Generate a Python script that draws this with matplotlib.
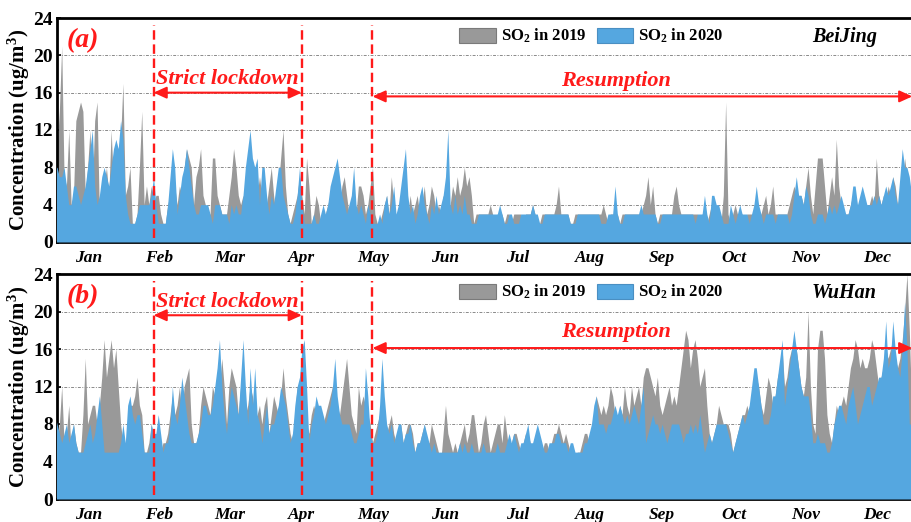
import matplotlib
matplotlib.use("Agg")
import matplotlib.pyplot as plt
from matplotlib.patches import Patch
import numpy as np

plt.rcParams['font.family'] = ['Liberation Serif', 'DejaVu Serif']
plt.rcParams['font.weight'] = 'bold'
plt.rcParams['mathtext.fontset'] = 'custom'
plt.rcParams['mathtext.rm'] = 'Liberation Serif:bold'
plt.rcParams['mathtext.it'] = 'Liberation Serif:italic:bold'
plt.rcParams['mathtext.bf'] = 'Liberation Serif:bold'

# daily SO2 (ug/m3), index 0 = 1 Jan
beijing_2019 = [
    8, 10, 14, 21, 7, 6, 12, 4, 5, 13,
    14, 15, 14, 5, 8, 12, 5, 13, 15, 3,
    2, 6, 8, 5, 12, 6, 7, 10, 11, 17,
    5, 6, 8, 2, 2, 3, 8, 14, 4, 6,
    4, 6, 4, 5, 5, 3, 2, 2, 4, 5,
    9, 6, 4, 6, 5, 8, 10, 9, 8, 4,
    7, 8, 10, 5, 4, 3, 3, 9, 9, 5,
    4, 3, 3, 3, 5, 7, 10, 8, 5, 4,
    5, 4, 6, 3, 4, 3, 5, 7, 5, 3,
    4, 6, 8, 5, 3, 6, 9, 12, 6, 3,
    2, 3, 4, 5, 7, 5, 3, 9, 6, 2,
    3, 5, 4, 2, 2, 3, 4, 5, 6, 5,
    7, 4, 6, 7, 5, 3, 4, 5, 3, 6,
    6, 5, 3, 4, 6, 8, 3, 2, 2, 3,
    4, 5, 3, 7, 4, 2, 3, 4, 3, 4,
    3, 5, 3, 4, 5, 3, 4, 6, 3, 4,
    6, 5, 3, 4, 3, 5, 4, 3, 4, 6,
    5, 7, 5, 6, 8, 6, 7, 5, 2, 3,
    3, 3, 3, 3, 3, 4, 3, 2, 3, 3,
    3, 2, 3, 3, 2, 3, 3, 3, 3, 2,
    3, 3, 3, 4, 3, 2, 2, 3, 3, 3,
    3, 3, 3, 4, 6, 3, 3, 3, 3, 2,
    2, 3, 3, 3, 3, 3, 3, 3, 3, 3,
    3, 3, 3, 4, 3, 2, 3, 3, 3, 3,
    2, 3, 3, 3, 3, 3, 3, 3, 3, 3,
    4, 5, 7, 4, 6, 3, 2, 3, 3, 3,
    3, 3, 3, 5, 6, 4, 3, 3, 3, 3,
    3, 3, 3, 3, 2, 3, 3, 2, 3, 4,
    3, 3, 3, 2, 5, 15, 3, 2, 3, 4,
    3, 3, 3, 2, 3, 3, 3, 3, 4, 3,
    3, 4, 5, 3, 4, 6, 3, 3, 3, 3,
    3, 3, 4, 5, 6, 5, 5, 5, 4, 6,
    8, 5, 3, 6, 9, 9, 9, 6, 3, 5,
    7, 5, 11, 6, 4, 3, 3, 3, 4, 5,
    4, 3, 4, 5, 4, 3, 4, 5, 4, 9,
    5, 4, 5, 4, 6, 5, 7, 6, 4, 5,
    6, 9, 7, 5, 6, 5,
]
beijing_2020 = [
    8, 8, 7, 7, 8, 6, 4, 4, 6, 6,
    5, 4, 5, 6, 8, 10, 12, 6, 4, 5,
    7, 8, 7, 6, 8, 10, 11, 10, 13, 11,
    5, 3, 2, 2, 2, 3, 4, 4, 4, 4,
    4, 5, 7, 4, 2, 2, 2, 2, 4, 7,
    10, 8, 3, 5, 7, 8, 10, 8, 6, 4,
    3, 3, 4, 4, 4, 4, 3, 2, 4, 4,
    4, 3, 3, 3, 2, 4, 3, 4, 3, 3,
    5, 8, 10, 12, 9, 8, 9, 4, 8, 8,
    5, 3, 5, 4, 6, 8, 8, 5, 4, 3,
    2, 2, 3, 5, 8, 4, 2, 2, 2, 2,
    3, 2, 2, 3, 4, 3, 4, 6, 7, 8,
    9, 7, 5, 4, 3, 4, 5, 8, 4, 3,
    4, 3, 2, 4, 3, 2, 2, 2, 3, 2,
    4, 5, 3, 4, 6, 3, 4, 6, 8, 10,
    5, 3, 4, 2, 3, 5, 6, 4, 3, 2,
    4, 3, 5, 3, 4, 5, 7, 12, 4, 3,
    5, 3, 4, 3, 5, 3, 3, 2, 2, 2,
    3, 3, 3, 3, 3, 3, 3, 3, 3, 4,
    3, 2, 2, 3, 3, 2, 2, 2, 3, 3,
    3, 3, 3, 4, 3, 3, 2, 2, 3, 3,
    3, 3, 3, 3, 3, 3, 3, 3, 3, 2,
    2, 2, 3, 3, 3, 3, 3, 3, 3, 3,
    3, 3, 2, 2, 2, 3, 3, 3, 6, 3,
    2, 2, 3, 3, 3, 3, 3, 3, 3, 4,
    3, 3, 3, 3, 3, 3, 2, 2, 3, 3,
    3, 3, 3, 3, 3, 3, 3, 3, 3, 3,
    3, 3, 2, 3, 3, 3, 5, 3, 2, 5,
    5, 4, 4, 3, 2, 2, 2, 4, 3, 2,
    3, 4, 3, 3, 3, 2, 3, 4, 6, 4,
    3, 2, 3, 3, 3, 3, 2, 3, 3, 3,
    3, 3, 2, 3, 5, 7, 5, 5, 4, 6,
    5, 3, 2, 2, 3, 3, 3, 2, 3, 4,
    3, 4, 3, 4, 5, 4, 3, 3, 4, 6,
    6, 4, 5, 6, 5, 4, 4, 4, 5, 4,
    5, 4, 5, 6, 5, 6, 7, 5, 4, 7,
    10, 8, 8, 7, 5, 6,
]
wuhan_2019 = [
    9, 6, 8, 12, 6, 7, 10, 5, 8, 6,
    5, 5, 9, 15, 8, 9, 10, 10, 8, 10,
    13, 17, 13, 15, 17, 14, 16, 12, 8, 6,
    5, 8, 10, 10, 11, 13, 10, 9, 5, 5,
    6, 8, 6, 7, 6, 5, 6, 6, 7, 9,
    11, 9, 10, 12, 9, 12, 13, 14, 8, 6,
    6, 7, 10, 12, 11, 10, 9, 12, 11, 10,
    12, 15, 12, 8, 12, 14, 13, 12, 9, 12,
    11, 9, 10, 12, 11, 8, 9, 10, 8, 10,
    11, 7, 9, 11, 10, 9, 11, 14, 11, 9,
    7, 6, 9, 12, 11, 13, 10, 8, 7, 9,
    10, 9, 10, 9, 8, 9, 10, 11, 12, 12,
    10, 9, 11, 13, 15, 12, 9, 8, 7, 12,
    10, 11, 10, 9, 8, 6, 7, 8, 9, 10,
    8, 7, 8, 9, 7, 6, 7, 8, 6, 7,
    8, 8, 7, 5, 6, 6, 7, 8, 6, 6,
    8, 7, 6, 5, 4, 7, 10, 7, 6, 5,
    6, 5, 6, 7, 8, 6, 7, 9, 9, 7,
    5, 6, 8, 9, 7, 5, 6, 7, 8, 8,
    6, 9, 7, 5, 6, 7, 7, 6, 5, 6,
    7, 7, 6, 5, 6, 7, 6, 5, 6, 6,
    5, 6, 7, 7, 8, 7, 6, 7, 6, 5,
    5, 4, 5, 5, 6, 7, 7, 6, 7, 9,
    11, 10, 9, 10, 9, 10, 12, 11, 9, 8,
    10, 9, 12, 10, 9, 12, 10, 11, 12, 10,
    13, 14, 14, 13, 12, 11, 13, 10, 9, 10,
    11, 12, 10, 11, 10, 12, 14, 16, 18, 17,
    14, 16, 17, 15, 12, 13, 14, 10, 7, 6,
    7, 8, 10, 9, 8, 8, 8, 7, 5, 6,
    7, 8, 9, 9, 10, 9, 10, 11, 13, 12,
    10, 9, 11, 13, 12, 10, 11, 13, 14, 16,
    12, 13, 15, 16, 17, 16, 14, 12, 11, 13,
    20, 12, 8, 7, 16, 18, 18, 15, 9, 7,
    6, 8, 10, 9, 10, 11, 10, 12, 14, 15,
    17, 16, 14, 15, 14, 14, 15, 17, 16, 14,
    12, 13, 14, 16, 15, 16, 17, 15, 14, 15,
    17, 20, 24, 18, 10, 8,
]
wuhan_2020 = [
    9, 8, 7, 6, 7, 8, 6, 7, 8, 6,
    5, 5, 5, 6, 7, 8, 6, 7, 9, 11,
    8, 5, 5, 5, 5, 5, 5, 5, 6, 8,
    6, 10, 11, 9, 8, 9, 9, 7, 5, 5,
    5, 8, 7, 7, 9, 7, 5, 6, 6, 8,
    12, 9, 8, 10, 13, 11, 9, 7, 6, 6,
    6, 7, 8, 10, 10, 9, 9, 10, 12, 14,
    17, 12, 9, 7, 10, 12, 11, 10, 9, 13,
    17, 12, 8, 14, 10, 14, 9, 8, 6, 8,
    10, 7, 8, 8, 9, 10, 12, 11, 10, 8,
    6, 7, 10, 12, 13, 16, 17, 12, 6, 8,
    9, 11, 10, 10, 9, 8, 9, 10, 12, 15,
    11, 9, 8, 8, 8, 8, 7, 6, 6, 7,
    8, 8, 14, 11, 7, 6, 6, 7, 10, 15,
    11, 8, 7, 8, 6, 7, 8, 8, 6, 7,
    7, 8, 6, 5, 6, 6, 7, 8, 7, 6,
    5, 6, 5, 5, 5, 5, 5, 5, 5, 5,
    5, 5, 6, 5, 6, 5, 5, 6, 5, 5,
    5, 5, 6, 5, 5, 5, 5, 5, 6, 5,
    5, 5, 6, 7, 6, 7, 6, 5, 6, 6,
    7, 8, 6, 6, 7, 8, 7, 6, 5, 5,
    6, 6, 6, 7, 7, 6, 6, 6, 5, 6,
    6, 5, 5, 5, 5, 6, 6, 7, 8, 10,
    11, 8, 8, 8, 7, 8, 8, 9, 10, 9,
    10, 9, 8, 9, 8, 9, 10, 9, 8, 10,
    12, 6, 7, 8, 9, 8, 8, 7, 8, 7,
    6, 7, 8, 8, 8, 8, 7, 6, 7, 7,
    8, 7, 8, 7, 9, 7, 5, 6, 7, 6,
    7, 8, 8, 8, 8, 8, 7, 6, 5, 6,
    7, 8, 9, 8, 9, 10, 12, 14, 14, 12,
    10, 8, 8, 8, 9, 11, 11, 13, 15, 17,
    10, 12, 14, 16, 18, 16, 14, 12, 11, 11,
    11, 9, 6, 6, 7, 6, 6, 6, 5, 5,
    6, 8, 9, 10, 10, 9, 8, 10, 11, 12,
    10, 8, 9, 10, 11, 12, 12, 10, 11, 12,
    13, 13, 15, 19, 14, 15, 19, 16, 14, 13,
    16, 21, 16, 8, 8, 7,
]

month_labels = ['Jan', 'Feb', 'Mar', 'Apr', 'May', 'Jun',
                'Jul', 'Aug', 'Sep', 'Oct', 'Nov', 'Dec']
month_days = [31, 29, 31, 30, 31, 30, 31, 31, 30, 31, 30, 31]

# period markers (day of year)
lockdown_start = 42
lockdown_end = 105
resumption_start = 135

GRAY = '#999999'
BLUE = '#55A7E0'
RED = '#FF1A1A'

month_start = np.concatenate([[0], np.cumsum(month_days)[:-1]])
month_mid = month_start + np.array(month_days) / 2 - 1


def draw_panel(ax, s2019, s2020, city, tag, lock_y, res_y):
    x19 = np.arange(len(s2019))
    x20 = np.arange(len(s2020))
    ax.fill_between(x19, 0, s2019, color=GRAY, linewidth=0, zorder=2)
    ax.fill_between(x20, 0, s2020, color=BLUE, linewidth=0, zorder=3)

    ax.set_xlim(1, 365)
    ax.set_ylim(0, 24)
    ax.set_yticks(range(0, 25, 4))
    ax.set_xticks(month_mid)
    ax.set_xticklabels(month_labels, fontstyle='italic', fontweight='bold', fontsize=12.5)
    ax.tick_params(axis='x', length=0, pad=5.5)
    ax.tick_params(axis='y', direction='in', length=3, width=1.2, labelsize=14, pad=3)
    ax.yaxis.grid(True, linestyle=(0, (3, 1.5, 1, 1.5)), color='#8a8a8a', linewidth=0.7)
    ax.set_axisbelow(True)
    for sp in ax.spines.values():
        sp.set_linewidth(2.0)
    ax.set_ylabel('Concentration (ug/m$^3$)', fontsize=15, fontweight='bold',
                  va='center')
    ax.yaxis.set_label_coords(-0.044, 0.5)

    for xv in (lockdown_start, lockdown_end, resumption_start):
        ax.axvline(xv, ymin=0.02, ymax=0.97, color=RED, linewidth=1.7,
                   dashes=(4, 2), zorder=5)

    arrow = dict(arrowstyle='<|-|>,head_length=0.55,head_width=0.25', color=RED,
                 lw=1.5, mutation_scale=14, shrinkA=0, shrinkB=0)
    ax.annotate('', xy=(lockdown_start, lock_y), xytext=(lockdown_end, lock_y),
                arrowprops=arrow, zorder=6)
    ax.text((lockdown_start + lockdown_end) / 2, lock_y + 0.35, 'Strict lockdown',
            color=RED, fontsize=16, fontstyle='italic', fontweight='bold',
            ha='center', va='bottom', zorder=6)
    ax.annotate('', xy=(resumption_start, res_y), xytext=(364.3, res_y),
                arrowprops=arrow, zorder=6)
    ax.text(238.5, res_y + 0.6, 'Resumption', color=RED, fontsize=16,
            fontstyle='italic', fontweight='bold', ha='center', va='bottom', zorder=6)

    ax.text(0.030, 0.90, tag, transform=ax.transAxes, color=RED, fontsize=20,
            fontstyle='italic', fontweight='bold', ha='center', va='center')
    ax.text(0.919, 0.915, city, transform=ax.transAxes, fontsize=14.5,
            fontstyle='italic', fontweight='bold', ha='center', va='center')

    handles = [Patch(facecolor=GRAY, edgecolor='#7a7a7a', linewidth=0.8),
               Patch(facecolor=BLUE, edgecolor='#4a8fc2', linewidth=0.8)]
    ax.legend(handles, ['SO$_2$ in 2019', 'SO$_2$ in 2020'], ncol=2, frameon=False,
              loc='upper left', bbox_to_anchor=(0.456, 1.012), fontsize=12,
              handlelength=2.2, handleheight=1.0, handletextpad=0.3,
              columnspacing=0.6, borderaxespad=0.3)


fig = plt.figure(figsize=(9.12, 5.22), dpi=100)
W, H = 912.0, 522.0
ax_top = fig.add_axes([57 / W, (H - 242) / H, 857 / W, 224 / H])
ax_bot = fig.add_axes([57 / W, (H - 499) / H, 857 / W, 225 / H])

draw_panel(ax_top, beijing_2019, beijing_2020, 'BeiJing', '(a)', 16.0, 15.6)
draw_panel(ax_bot, wuhan_2019, wuhan_2020, 'WuHan', '(b)', 19.6, 16.1)

fig.savefig('out.png', dpi=100)
